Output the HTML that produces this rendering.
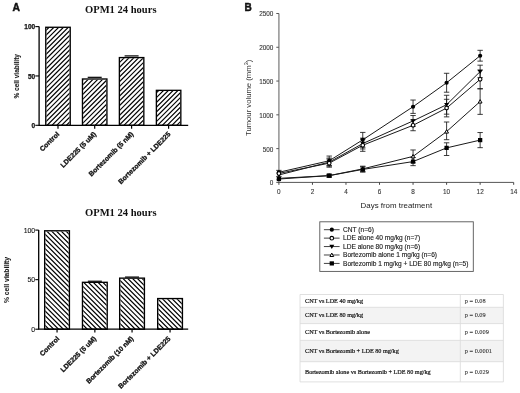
<!DOCTYPE html><html><head><meta charset="utf-8"><style>html,body{margin:0;padding:0;background:#fff;}svg{display:block;filter:grayscale(100%)}</style></head><body>
<svg width="520" height="393" viewBox="0 0 520 393">
<defs>
</defs>
<rect width="520" height="393" fill="#fff"/>
<text x="12.5" y="11.4" font-family='"Liberation Sans", sans-serif' font-weight="bold" font-size="10.3" fill="#111" stroke="#111" stroke-width="0.45">A</text>
<text x="244.6" y="10.9" font-family='"Liberation Sans", sans-serif' font-weight="bold" font-size="10.1" fill="#111" stroke="#111" stroke-width="0.4">B</text>
<text x="85" y="13.00" font-family='"Liberation Serif", serif' font-weight="bold" font-size="10.55" fill="#111">OPM1 24 hours</text>
<text transform="translate(18.60,76.30) rotate(-90)" text-anchor="middle" font-family='"Liberation Sans", sans-serif' font-weight="bold" font-size="6.5" fill="#1a1a1a" stroke="#1a1a1a" stroke-width="0.1">% cell viability</text>
<path d="M39.10,26.60 V125.30 H188.2" fill="none" stroke="#000" stroke-width="1.3"/>
<path d="M35.3,26.60 H39.10" stroke="#000" stroke-width="1.1"/>
<text x="35.2" y="29.30" text-anchor="end" font-family='"Liberation Sans", sans-serif' font-weight="bold" font-size="6.5" fill="#111" stroke="#111" stroke-width="0.25">100</text>
<path d="M35.3,75.95 H39.10" stroke="#000" stroke-width="1.1"/>
<text x="35.2" y="78.65" text-anchor="end" font-family='"Liberation Sans", sans-serif' font-weight="bold" font-size="6.5" fill="#111" stroke="#111" stroke-width="0.25">50</text>
<path d="M35.3,125.30 H39.10" stroke="#000" stroke-width="1.1"/>
<text x="35.2" y="128.00" text-anchor="end" font-family='"Liberation Sans", sans-serif' font-weight="bold" font-size="6.5" fill="#111" stroke="#111" stroke-width="0.25">0</text>
<clipPath id="ch10"><rect x="46.45" y="27.95" width="23.10" height="97.35"/></clipPath>
<g clip-path="url(#ch10)"><path d="M-59.50,126.30L39.85,26.95M-54.70,126.30L44.65,26.95M-49.90,126.30L49.45,26.95M-45.10,126.30L54.25,26.95M-40.30,126.30L59.05,26.95M-35.50,126.30L63.85,26.95M-30.70,126.30L68.65,26.95M-25.90,126.30L73.45,26.95M-21.10,126.30L78.25,26.95M-16.30,126.30L83.05,26.95M-11.50,126.30L87.85,26.95M-6.70,126.30L92.65,26.95M-1.90,126.30L97.45,26.95M2.90,126.30L102.25,26.95M7.70,126.30L107.05,26.95M12.50,126.30L111.85,26.95M17.30,126.30L116.65,26.95M22.10,126.30L121.45,26.95M26.90,126.30L126.25,26.95M31.70,126.30L131.05,26.95M36.50,126.30L135.85,26.95M41.30,126.30L140.65,26.95M46.10,126.30L145.45,26.95M50.90,126.30L150.25,26.95M55.70,126.30L155.05,26.95M60.50,126.30L159.85,26.95M65.30,126.30L164.65,26.95M70.10,126.30L169.45,26.95M74.90,126.30L174.25,26.95" stroke="#000" stroke-width="1.2" fill="none"/></g>
<rect x="45.77" y="27.28" width="24.45" height="98.02" fill="none" stroke="#000" stroke-width="1.35"/>
<path d="M58.00,125.30 V128.70" stroke="#000" stroke-width="1.2"/>
<clipPath id="ch11"><rect x="83.15" y="79.67" width="23.10" height="45.63"/></clipPath>
<g clip-path="url(#ch11)"><path d="M31.70,126.30L79.33,78.67M36.50,126.30L84.13,78.67M41.30,126.30L88.93,78.67M46.10,126.30L93.73,78.67M50.90,126.30L98.53,78.67M55.70,126.30L103.33,78.67M60.50,126.30L108.13,78.67M65.30,126.30L112.93,78.67M70.10,126.30L117.73,78.67M74.90,126.30L122.53,78.67M79.70,126.30L127.33,78.67M84.50,126.30L132.13,78.67M89.30,126.30L136.93,78.67M94.10,126.30L141.73,78.67M98.90,126.30L146.53,78.67M103.70,126.30L151.33,78.67M108.50,126.30L156.13,78.67M113.30,126.30L160.93,78.67" stroke="#000" stroke-width="1.2" fill="none"/></g>
<rect x="82.47" y="78.99" width="24.45" height="46.31" fill="none" stroke="#000" stroke-width="1.35"/>
<path d="M87.70,77.32 H101.70" stroke="#000" stroke-width="1.2"/>
<path d="M94.70,125.30 V128.70" stroke="#000" stroke-width="1.2"/>
<clipPath id="ch12"><rect x="120.05" y="58.25" width="23.10" height="67.05"/></clipPath>
<g clip-path="url(#ch12)"><path d="M46.10,126.30L115.15,57.25M50.90,126.30L119.95,57.25M55.70,126.30L124.75,57.25M60.50,126.30L129.55,57.25M65.30,126.30L134.35,57.25M70.10,126.30L139.15,57.25M74.90,126.30L143.95,57.25M79.70,126.30L148.75,57.25M84.50,126.30L153.55,57.25M89.30,126.30L158.35,57.25M94.10,126.30L163.15,57.25M98.90,126.30L167.95,57.25M103.70,126.30L172.75,57.25M108.50,126.30L177.55,57.25M113.30,126.30L182.35,57.25M118.10,126.30L187.15,57.25M122.90,126.30L191.95,57.25M127.70,126.30L196.75,57.25M132.50,126.30L201.55,57.25M137.30,126.30L206.35,57.25M142.10,126.30L211.15,57.25M146.90,126.30L215.95,57.25M151.70,126.30L220.75,57.25" stroke="#000" stroke-width="1.2" fill="none"/></g>
<rect x="119.38" y="57.58" width="24.45" height="67.72" fill="none" stroke="#000" stroke-width="1.35"/>
<path d="M124.60,55.90 H138.60" stroke="#000" stroke-width="1.2"/>
<path d="M131.60,125.30 V128.70" stroke="#000" stroke-width="1.2"/>
<clipPath id="ch13"><rect x="157.05" y="91.02" width="23.10" height="34.28"/></clipPath>
<g clip-path="url(#ch13)"><path d="M113.30,126.30L149.58,90.02M118.10,126.30L154.38,90.02M122.90,126.30L159.18,90.02M127.70,126.30L163.98,90.02M132.50,126.30L168.78,90.02M137.30,126.30L173.58,90.02M142.10,126.30L178.38,90.02M146.90,126.30L183.18,90.02M151.70,126.30L187.98,90.02M156.50,126.30L192.78,90.02M161.30,126.30L197.58,90.02M166.10,126.30L202.38,90.02M170.90,126.30L207.18,90.02M175.70,126.30L211.98,90.02M180.50,126.30L216.78,90.02M185.30,126.30L221.58,90.02" stroke="#000" stroke-width="1.2" fill="none"/></g>
<rect x="156.38" y="90.34" width="24.45" height="34.96" fill="none" stroke="#000" stroke-width="1.35"/>
<path d="M168.60,125.30 V128.70" stroke="#000" stroke-width="1.2"/>
<text transform="translate(59.80,134.60) rotate(-45)" text-anchor="end" font-family='"Liberation Sans", sans-serif' font-weight="bold" font-size="6.85" fill="#111" stroke="#111" stroke-width="0.3">Control</text>
<text transform="translate(96.60,134.60) rotate(-45)" text-anchor="end" font-family='"Liberation Sans", sans-serif' font-weight="bold" font-size="6.85" fill="#111" stroke="#111" stroke-width="0.3">LDE225 (5 uM)</text>
<text transform="translate(133.80,134.60) rotate(-45)" text-anchor="end" font-family='"Liberation Sans", sans-serif' font-weight="bold" font-size="6.85" fill="#111" stroke="#111" stroke-width="0.3">Bortezomib (5 nM)</text>
<text transform="translate(171.00,134.60) rotate(-45)" text-anchor="end" font-family='"Liberation Sans", sans-serif' font-weight="bold" font-size="6.85" fill="#111" stroke="#111" stroke-width="0.3">Bortezomib + LDE225</text>
<text x="85" y="216.10" font-family='"Liberation Serif", serif' font-weight="bold" font-size="10.55" fill="#111">OPM1 24 hours</text>
<text transform="translate(9.40,280.00) rotate(-90)" text-anchor="middle" font-family='"Liberation Sans", sans-serif' font-weight="bold" font-size="6.75" fill="#1a1a1a" stroke="#1a1a1a" stroke-width="0.1">% cell viability</text>
<path d="M38.70,230.10 V329.20 H188.2" fill="none" stroke="#000" stroke-width="1.3"/>
<path d="M35.3,230.10 H38.70" stroke="#000" stroke-width="1.1"/>
<text x="35.2" y="232.80" text-anchor="end" font-family='"Liberation Sans", sans-serif' font-weight="normal" font-size="6.9" fill="#111" stroke="#111" stroke-width="0.1">100</text>
<path d="M35.3,279.65 H38.70" stroke="#000" stroke-width="1.1"/>
<text x="35.2" y="282.35" text-anchor="end" font-family='"Liberation Sans", sans-serif' font-weight="normal" font-size="6.9" fill="#111" stroke="#111" stroke-width="0.1">50</text>
<path d="M35.3,329.20 H38.70" stroke="#000" stroke-width="1.1"/>
<text x="35.2" y="331.90" text-anchor="end" font-family='"Liberation Sans", sans-serif' font-weight="normal" font-size="6.9" fill="#111" stroke="#111" stroke-width="0.1">0</text>
<clipPath id="ch20"><rect x="45.35" y="231.45" width="23.40" height="97.75"/></clipPath>
<g clip-path="url(#ch20)"><path d="M-59.45,230.45L40.30,330.20M-54.65,230.45L45.10,330.20M-49.85,230.45L49.90,330.20M-45.05,230.45L54.70,330.20M-40.25,230.45L59.50,330.20M-35.45,230.45L64.30,330.20M-30.65,230.45L69.10,330.20M-25.85,230.45L73.90,330.20M-21.05,230.45L78.70,330.20M-16.25,230.45L83.50,330.20M-11.45,230.45L88.30,330.20M-6.65,230.45L93.10,330.20M-1.85,230.45L97.90,330.20M2.95,230.45L102.70,330.20M7.75,230.45L107.50,330.20M12.55,230.45L112.30,330.20M17.35,230.45L117.10,330.20M22.15,230.45L121.90,330.20M26.95,230.45L126.70,330.20M31.75,230.45L131.50,330.20M36.55,230.45L136.30,330.20M41.35,230.45L141.10,330.20M46.15,230.45L145.90,330.20M50.95,230.45L150.70,330.20M55.75,230.45L155.50,330.20M60.55,230.45L160.30,330.20M65.35,230.45L165.10,330.20M70.15,230.45L169.90,330.20M74.95,230.45L174.70,330.20" stroke="#000" stroke-width="1.2" fill="none"/></g>
<rect x="44.67" y="230.78" width="24.75" height="98.42" fill="none" stroke="#000" stroke-width="1.35"/>
<path d="M57.05,329.20 V332.60" stroke="#000" stroke-width="1.2"/>
<clipPath id="ch21"><rect x="83.15" y="282.98" width="23.40" height="46.22"/></clipPath>
<g clip-path="url(#ch21)"><path d="M30.48,281.98L78.70,330.20M35.28,281.98L83.50,330.20M40.08,281.98L88.30,330.20M44.88,281.98L93.10,330.20M49.68,281.98L97.90,330.20M54.48,281.98L102.70,330.20M59.28,281.98L107.50,330.20M64.08,281.98L112.30,330.20M68.88,281.98L117.10,330.20M73.68,281.98L121.90,330.20M78.48,281.98L126.70,330.20M83.28,281.98L131.50,330.20M88.08,281.98L136.30,330.20M92.88,281.98L141.10,330.20M97.68,281.98L145.90,330.20M102.48,281.98L150.70,330.20M107.28,281.98L155.50,330.20M112.08,281.98L160.30,330.20" stroke="#000" stroke-width="1.2" fill="none"/></g>
<rect x="82.47" y="282.31" width="24.75" height="46.89" fill="none" stroke="#000" stroke-width="1.35"/>
<path d="M87.85,281.23 H101.85" stroke="#000" stroke-width="1.2"/>
<path d="M94.85,329.20 V332.60" stroke="#000" stroke-width="1.2"/>
<clipPath id="ch22"><rect x="120.35" y="278.82" width="23.40" height="50.38"/></clipPath>
<g clip-path="url(#ch22)"><path d="M59.92,277.82L112.30,330.20M64.72,277.82L117.10,330.20M69.52,277.82L121.90,330.20M74.32,277.82L126.70,330.20M79.12,277.82L131.50,330.20M83.92,277.82L136.30,330.20M88.72,277.82L141.10,330.20M93.52,277.82L145.90,330.20M98.32,277.82L150.70,330.20M103.12,277.82L155.50,330.20M107.92,277.82L160.30,330.20M112.72,277.82L165.10,330.20M117.52,277.82L169.90,330.20M122.32,277.82L174.70,330.20M127.12,277.82L179.50,330.20M131.92,277.82L184.30,330.20M136.72,277.82L189.10,330.20M141.52,277.82L193.90,330.20M146.32,277.82L198.70,330.20M151.12,277.82L203.50,330.20" stroke="#000" stroke-width="1.2" fill="none"/></g>
<rect x="119.67" y="278.14" width="24.75" height="51.06" fill="none" stroke="#000" stroke-width="1.35"/>
<path d="M125.05,277.07 H139.05" stroke="#000" stroke-width="1.2"/>
<path d="M132.05,329.20 V332.60" stroke="#000" stroke-width="1.2"/>
<clipPath id="ch23"><rect x="158.35" y="299.23" width="23.40" height="29.97"/></clipPath>
<g clip-path="url(#ch23)"><path d="M118.73,298.23L150.70,330.20M123.53,298.23L155.50,330.20M128.33,298.23L160.30,330.20M133.13,298.23L165.10,330.20M137.93,298.23L169.90,330.20M142.73,298.23L174.70,330.20M147.53,298.23L179.50,330.20M152.33,298.23L184.30,330.20M157.13,298.23L189.10,330.20M161.93,298.23L193.90,330.20M166.73,298.23L198.70,330.20M171.53,298.23L203.50,330.20M176.33,298.23L208.30,330.20M181.13,298.23L213.10,330.20M185.93,298.23L217.90,330.20" stroke="#000" stroke-width="1.2" fill="none"/></g>
<rect x="157.68" y="298.56" width="24.75" height="30.64" fill="none" stroke="#000" stroke-width="1.35"/>
<path d="M170.05,329.20 V332.60" stroke="#000" stroke-width="1.2"/>
<text transform="translate(59.80,339.20) rotate(-45)" text-anchor="end" font-family='"Liberation Sans", sans-serif' font-weight="bold" font-size="6.85" fill="#111" stroke="#111" stroke-width="0.3">Control</text>
<text transform="translate(96.60,339.20) rotate(-45)" text-anchor="end" font-family='"Liberation Sans", sans-serif' font-weight="bold" font-size="6.85" fill="#111" stroke="#111" stroke-width="0.3">LDE225 (5 uM)</text>
<text transform="translate(133.80,339.20) rotate(-45)" text-anchor="end" font-family='"Liberation Sans", sans-serif' font-weight="bold" font-size="6.85" fill="#111" stroke="#111" stroke-width="0.3">Bortezomib (10 nM)</text>
<text transform="translate(171.00,339.20) rotate(-45)" text-anchor="end" font-family='"Liberation Sans", sans-serif' font-weight="bold" font-size="6.85" fill="#111" stroke="#111" stroke-width="0.3">Bortezomib + LDE225</text>
<path d="M278.90,13.50 V182.40" fill="none" stroke="#8a8a8a" stroke-width="1.4"/>
<path d="M278.20,182.40 H513.68" fill="none" stroke="#555" stroke-width="1.0"/>
<path d="M276.3,182.40 H278.90" stroke="#555" stroke-width="1"/>
<text x="273.4" y="185.30" text-anchor="end" font-family='"Liberation Sans", sans-serif' font-size="6.4" fill="#333" stroke="#333" stroke-width="0.1">0</text>
<path d="M276.3,148.62 H278.90" stroke="#555" stroke-width="1"/>
<text x="273.4" y="151.52" text-anchor="end" font-family='"Liberation Sans", sans-serif' font-size="6.4" fill="#333" stroke="#333" stroke-width="0.1">500</text>
<path d="M276.3,114.84 H278.90" stroke="#555" stroke-width="1"/>
<text x="273.4" y="117.74" text-anchor="end" font-family='"Liberation Sans", sans-serif' font-size="6.4" fill="#333" stroke="#333" stroke-width="0.1">1000</text>
<path d="M276.3,81.06 H278.90" stroke="#555" stroke-width="1"/>
<text x="273.4" y="83.96" text-anchor="end" font-family='"Liberation Sans", sans-serif' font-size="6.4" fill="#333" stroke="#333" stroke-width="0.1">1500</text>
<path d="M276.3,47.28 H278.90" stroke="#555" stroke-width="1"/>
<text x="273.4" y="50.18" text-anchor="end" font-family='"Liberation Sans", sans-serif' font-size="6.4" fill="#333" stroke="#333" stroke-width="0.1">2000</text>
<path d="M276.3,13.50 H278.90" stroke="#555" stroke-width="1"/>
<text x="273.4" y="16.40" text-anchor="end" font-family='"Liberation Sans", sans-serif' font-size="6.4" fill="#333" stroke="#333" stroke-width="0.1">2500</text>
<path d="M278.90,182.40 V184.80" stroke="#444" stroke-width="1"/>
<text x="278.90" y="194.2" text-anchor="middle" font-family='"Liberation Sans", sans-serif' font-size="6.4" fill="#333" stroke="#333" stroke-width="0.1">0</text>
<path d="M312.44,182.40 V184.80" stroke="#444" stroke-width="1"/>
<text x="312.44" y="194.2" text-anchor="middle" font-family='"Liberation Sans", sans-serif' font-size="6.4" fill="#333" stroke="#333" stroke-width="0.1">2</text>
<path d="M345.98,182.40 V184.80" stroke="#444" stroke-width="1"/>
<text x="345.98" y="194.2" text-anchor="middle" font-family='"Liberation Sans", sans-serif' font-size="6.4" fill="#333" stroke="#333" stroke-width="0.1">4</text>
<path d="M379.52,182.40 V184.80" stroke="#444" stroke-width="1"/>
<text x="379.52" y="194.2" text-anchor="middle" font-family='"Liberation Sans", sans-serif' font-size="6.4" fill="#333" stroke="#333" stroke-width="0.1">6</text>
<path d="M413.06,182.40 V184.80" stroke="#444" stroke-width="1"/>
<text x="413.06" y="194.2" text-anchor="middle" font-family='"Liberation Sans", sans-serif' font-size="6.4" fill="#333" stroke="#333" stroke-width="0.1">8</text>
<path d="M446.60,182.40 V184.80" stroke="#444" stroke-width="1"/>
<text x="446.60" y="194.2" text-anchor="middle" font-family='"Liberation Sans", sans-serif' font-size="6.4" fill="#333" stroke="#333" stroke-width="0.1">10</text>
<path d="M480.14,182.40 V184.80" stroke="#444" stroke-width="1"/>
<text x="480.14" y="194.2" text-anchor="middle" font-family='"Liberation Sans", sans-serif' font-size="6.4" fill="#333" stroke="#333" stroke-width="0.1">12</text>
<path d="M513.68,182.40 V184.80" stroke="#444" stroke-width="1"/>
<text x="513.68" y="194.2" text-anchor="middle" font-family='"Liberation Sans", sans-serif' font-size="6.4" fill="#333" stroke="#333" stroke-width="0.1">14</text>
<text x="360.6" y="208.4" font-family='"Liberation Sans", sans-serif' font-size="7.9" fill="#222">Days from treatment</text>
<text transform="translate(251.2,97.9) rotate(-90)" text-anchor="middle" font-family='"Liberation Sans", sans-serif' font-size="7.7" fill="#333">Tumour volume (mm<tspan dy="-3.3" font-size="5.4">3</tspan><tspan dy="3.3">)</tspan></text>
<path d="M329.21,156.05 V165.51 M326.51,156.05 H331.91 M326.51,165.51 H331.91" stroke="#1a1a1a" stroke-width="0.85" fill="none"/>
<path d="M362.75,132.41 V147.27 M360.05,132.41 H365.45 M360.05,147.27 H365.45" stroke="#1a1a1a" stroke-width="0.85" fill="none"/>
<path d="M413.06,100.04 V113.42 M410.36,100.04 H415.76 M410.36,113.42 H415.76" stroke="#1a1a1a" stroke-width="0.85" fill="none"/>
<path d="M446.60,73.29 V92.21 M443.90,73.29 H449.30 M443.90,92.21 H449.30" stroke="#1a1a1a" stroke-width="0.85" fill="none"/>
<path d="M480.14,50.32 V61.13 M477.44,50.32 H482.84 M477.44,61.13 H482.84" stroke="#1a1a1a" stroke-width="0.85" fill="none"/>
<path d="M278.90,170.37 V176.45 M276.20,170.37 H281.60 M276.20,176.45 H281.60" stroke="#1a1a1a" stroke-width="0.85" fill="none"/>
<path d="M329.21,159.09 V167.20 M326.51,159.09 H331.91 M326.51,167.20 H331.91" stroke="#1a1a1a" stroke-width="0.85" fill="none"/>
<path d="M362.75,139.16 V151.32 M360.05,139.16 H365.45 M360.05,151.32 H365.45" stroke="#1a1a1a" stroke-width="0.85" fill="none"/>
<path d="M413.06,119.91 V130.72 M410.36,119.91 H415.76 M410.36,130.72 H415.76" stroke="#1a1a1a" stroke-width="0.85" fill="none"/>
<path d="M446.60,99.30 V116.87 M443.90,99.30 H449.30 M443.90,116.87 H449.30" stroke="#1a1a1a" stroke-width="0.85" fill="none"/>
<path d="M480.14,69.91 V88.83 M477.44,69.91 H482.84 M477.44,88.83 H482.84" stroke="#1a1a1a" stroke-width="0.85" fill="none"/>
<path d="M329.21,158.08 V166.19 M326.51,158.08 H331.91 M326.51,166.19 H331.91" stroke="#1a1a1a" stroke-width="0.85" fill="none"/>
<path d="M362.75,138.15 V148.96 M360.05,138.15 H365.45 M360.05,148.96 H365.45" stroke="#1a1a1a" stroke-width="0.85" fill="none"/>
<path d="M413.06,115.52 V126.33 M410.36,115.52 H415.76 M410.36,126.33 H415.76" stroke="#1a1a1a" stroke-width="0.85" fill="none"/>
<path d="M446.60,95.25 V114.16 M443.90,95.25 H449.30 M443.90,114.16 H449.30" stroke="#1a1a1a" stroke-width="0.85" fill="none"/>
<path d="M480.14,65.18 V77.68 M477.44,65.18 H482.84 M477.44,77.68 H482.84" stroke="#1a1a1a" stroke-width="0.85" fill="none"/>
<path d="M329.21,174.29 V177.00 M326.51,174.29 H331.91 M326.51,177.00 H331.91" stroke="#1a1a1a" stroke-width="0.85" fill="none"/>
<path d="M362.75,166.19 V171.59 M360.05,166.19 H365.45 M360.05,171.59 H365.45" stroke="#1a1a1a" stroke-width="0.85" fill="none"/>
<path d="M413.06,149.97 V162.81 M410.36,149.97 H415.76 M410.36,162.81 H415.76" stroke="#1a1a1a" stroke-width="0.85" fill="none"/>
<path d="M446.60,122.00 V139.70 M443.90,122.00 H449.30 M443.90,139.70 H449.30" stroke="#1a1a1a" stroke-width="0.85" fill="none"/>
<path d="M480.14,88.69 V114.37 M477.44,88.69 H482.84 M477.44,114.37 H482.84" stroke="#1a1a1a" stroke-width="0.85" fill="none"/>
<path d="M329.21,174.29 V177.00 M326.51,174.29 H331.91 M326.51,177.00 H331.91" stroke="#1a1a1a" stroke-width="0.85" fill="none"/>
<path d="M362.75,166.73 V172.13 M360.05,166.73 H365.45 M360.05,172.13 H365.45" stroke="#1a1a1a" stroke-width="0.85" fill="none"/>
<path d="M413.06,157.54 V165.65 M410.36,157.54 H415.76 M410.36,165.65 H415.76" stroke="#1a1a1a" stroke-width="0.85" fill="none"/>
<path d="M446.60,142.81 V155.51 M443.90,142.81 H449.30 M443.90,155.51 H449.30" stroke="#1a1a1a" stroke-width="0.85" fill="none"/>
<path d="M480.14,132.54 V147.67 M477.44,132.54 H482.84 M477.44,147.67 H482.84" stroke="#1a1a1a" stroke-width="0.85" fill="none"/>
<polyline points="278.90,172.27 329.21,160.78 362.75,139.84 413.06,106.73 446.60,82.75 480.14,55.73" fill="none" stroke="#1a1a1a" stroke-width="1.0"/>
<polyline points="278.90,173.41 329.21,163.15 362.75,145.24 413.06,125.31 446.60,108.08 480.14,79.37" fill="none" stroke="#1a1a1a" stroke-width="1.0"/>
<polyline points="278.90,174.97 329.21,162.13 362.75,143.55 413.06,120.92 446.60,104.71 480.14,71.60" fill="none" stroke="#1a1a1a" stroke-width="1.0"/>
<polyline points="278.90,178.35 329.21,175.64 362.75,168.89 413.06,156.39 446.60,131.59 480.14,101.53" fill="none" stroke="#1a1a1a" stroke-width="1.0"/>
<polyline points="278.90,179.02 329.21,175.64 362.75,169.43 413.06,161.59 446.60,147.88 480.14,140.11" fill="none" stroke="#1a1a1a" stroke-width="1.0"/>
<circle cx="278.90" cy="172.27" r="2.10" fill="#000"/>
<circle cx="329.21" cy="160.78" r="2.10" fill="#000"/>
<circle cx="362.75" cy="139.84" r="2.10" fill="#000"/>
<circle cx="413.06" cy="106.73" r="2.10" fill="#000"/>
<circle cx="446.60" cy="82.75" r="2.10" fill="#000"/>
<circle cx="480.14" cy="55.73" r="2.10" fill="#000"/>
<path d="M276.40,173.27 L281.40,173.27 L278.90,177.37 Z" fill="#000"/>
<path d="M326.71,160.43 L331.71,160.43 L329.21,164.53 Z" fill="#000"/>
<path d="M360.25,141.85 L365.25,141.85 L362.75,145.95 Z" fill="#000"/>
<path d="M410.56,119.22 L415.56,119.22 L413.06,123.32 Z" fill="#000"/>
<path d="M444.10,103.01 L449.10,103.01 L446.60,107.11 Z" fill="#000"/>
<path d="M477.64,69.90 L482.64,69.90 L480.14,74.00 Z" fill="#000"/>
<path d="M277.00,179.85 L280.80,179.85 L278.90,176.45 Z" fill="#fff" stroke="#000" stroke-width="1.00" stroke-linejoin="miter"/>
<path d="M327.31,177.14 L331.11,177.14 L329.21,173.74 Z" fill="#fff" stroke="#000" stroke-width="1.00" stroke-linejoin="miter"/>
<path d="M360.85,170.39 L364.65,170.39 L362.75,166.99 Z" fill="#fff" stroke="#000" stroke-width="1.00" stroke-linejoin="miter"/>
<path d="M411.16,157.89 L414.96,157.89 L413.06,154.49 Z" fill="#fff" stroke="#000" stroke-width="1.00" stroke-linejoin="miter"/>
<path d="M444.70,133.09 L448.50,133.09 L446.60,129.69 Z" fill="#fff" stroke="#000" stroke-width="1.00" stroke-linejoin="miter"/>
<path d="M478.24,103.03 L482.04,103.03 L480.14,99.63 Z" fill="#fff" stroke="#000" stroke-width="1.00" stroke-linejoin="miter"/>
<rect x="276.75" y="176.92" width="4.30" height="4.20" fill="#000"/>
<rect x="327.06" y="173.54" width="4.30" height="4.20" fill="#000"/>
<rect x="360.60" y="167.33" width="4.30" height="4.20" fill="#000"/>
<rect x="410.91" y="159.49" width="4.30" height="4.20" fill="#000"/>
<rect x="444.45" y="145.78" width="4.30" height="4.20" fill="#000"/>
<rect x="477.99" y="138.01" width="4.30" height="4.20" fill="#000"/>
<circle cx="278.90" cy="173.41" r="1.80" fill="#fff" stroke="#000" stroke-width="1.10"/>
<circle cx="329.21" cy="163.15" r="1.80" fill="#fff" stroke="#000" stroke-width="1.10"/>
<circle cx="362.75" cy="145.24" r="1.80" fill="#fff" stroke="#000" stroke-width="1.10"/>
<circle cx="413.06" cy="125.31" r="1.80" fill="#fff" stroke="#000" stroke-width="1.10"/>
<circle cx="446.60" cy="108.08" r="1.80" fill="#fff" stroke="#000" stroke-width="1.10"/>
<circle cx="480.14" cy="79.37" r="1.80" fill="#fff" stroke="#000" stroke-width="1.10"/>
<rect x="319.8" y="221.8" width="153.5" height="49.6" fill="#fff" stroke="#555" stroke-width="0.9"/>
<path d="M323.9,229.70 H339.6" stroke="#444" stroke-width="1.0"/>
<circle cx="331.80" cy="229.70" r="2.10" fill="#000"/>
<text x="343" y="232.00" font-family='"Liberation Sans", sans-serif' font-size="6.6" fill="#222" stroke="#222" stroke-width="0.14">CNT (n=6)</text>
<path d="M323.9,238.13 H339.6" stroke="#444" stroke-width="1.0"/>
<circle cx="331.80" cy="238.13" r="1.80" fill="#fff" stroke="#000" stroke-width="1.10"/>
<text x="343" y="240.43" font-family='"Liberation Sans", sans-serif' font-size="6.6" fill="#222" stroke="#222" stroke-width="0.14">LDE alone 40 mg/kg (n=7)</text>
<path d="M323.9,246.56 H339.6" stroke="#444" stroke-width="1.0"/>
<path d="M329.30,244.86 L334.30,244.86 L331.80,248.96 Z" fill="#000"/>
<text x="343" y="248.86" font-family='"Liberation Sans", sans-serif' font-size="6.6" fill="#222" stroke="#222" stroke-width="0.14">LDE alone 80 mg/kg (n=6)</text>
<path d="M323.9,254.99 H339.6" stroke="#444" stroke-width="1.0"/>
<path d="M329.90,256.49 L333.70,256.49 L331.80,253.09 Z" fill="#fff" stroke="#000" stroke-width="1.00" stroke-linejoin="miter"/>
<text x="343" y="257.29" font-family='"Liberation Sans", sans-serif' font-size="6.6" fill="#222" stroke="#222" stroke-width="0.14">Bortezomib alone 1 mg/kg (n=6)</text>
<path d="M323.9,263.42 H339.6" stroke="#444" stroke-width="1.0"/>
<rect x="329.65" y="261.32" width="4.30" height="4.20" fill="#000"/>
<text x="343" y="265.72" font-family='"Liberation Sans", sans-serif' font-size="6.6" fill="#222" stroke="#222" stroke-width="0.14">Bortezomib 1 mg/kg + LDE 80 mg/kg (n=5)</text>
<rect x="300.0" y="307.3" width="203.39999999999998" height="16.30000000000001" fill="#f3f3f3"/>
<rect x="300.0" y="340.4" width="203.39999999999998" height="21.30000000000001" fill="#f3f3f3"/>
<path d="M300.0,294.5 H503.4" stroke="#dcdcdc" stroke-width="0.9"/>
<path d="M300.0,307.3 H503.4" stroke="#dcdcdc" stroke-width="0.9"/>
<path d="M300.0,323.6 H503.4" stroke="#dcdcdc" stroke-width="0.9"/>
<path d="M300.0,340.4 H503.4" stroke="#dcdcdc" stroke-width="0.9"/>
<path d="M300.0,361.7 H503.4" stroke="#dcdcdc" stroke-width="0.9"/>
<path d="M300.0,381.9 H503.4" stroke="#dcdcdc" stroke-width="0.9"/>
<path d="M300.0,294.5 V381.9 M503.4,294.5 V381.9 M460.3,294.5 V381.9" stroke="#dcdcdc" stroke-width="0.9"/>
<text x="305.0" y="302.70" font-family='"Liberation Serif", serif' font-size="6.2" fill="#1a1a1a" stroke="#1a1a1a" stroke-width="0.22">CNT vs LDE 40 mg/kg</text>
<text x="464.8" y="302.70" font-family='"Liberation Serif", serif' font-size="6.3" fill="#333" stroke="#333" stroke-width="0.1">p = 0.08</text>
<text x="305.0" y="317.25" font-family='"Liberation Serif", serif' font-size="6.2" fill="#1a1a1a" stroke="#1a1a1a" stroke-width="0.22">CNT vs LDE 80 mg/kg</text>
<text x="464.8" y="317.25" font-family='"Liberation Serif", serif' font-size="6.3" fill="#333" stroke="#333" stroke-width="0.1">p = 0.09</text>
<text x="305.0" y="333.80" font-family='"Liberation Serif", serif' font-size="6.2" fill="#1a1a1a" stroke="#1a1a1a" stroke-width="0.22">CNT vs Bortezomib alone</text>
<text x="464.8" y="333.80" font-family='"Liberation Serif", serif' font-size="6.3" fill="#333" stroke="#333" stroke-width="0.1">p = 0.009</text>
<text x="305.0" y="352.85" font-family='"Liberation Serif", serif' font-size="6.2" fill="#1a1a1a" stroke="#1a1a1a" stroke-width="0.22">CNT vs Bortezomib + LDE 80 mg/kg</text>
<text x="464.8" y="352.85" font-family='"Liberation Serif", serif' font-size="6.3" fill="#333" stroke="#333" stroke-width="0.1">p = 0.0001</text>
<text x="305.0" y="373.60" font-family='"Liberation Serif", serif' font-size="6.2" fill="#1a1a1a" stroke="#1a1a1a" stroke-width="0.22">Bortezomib alone vs Bortezomib + LDE 80 mg/kg</text>
<text x="464.8" y="373.60" font-family='"Liberation Serif", serif' font-size="6.3" fill="#333" stroke="#333" stroke-width="0.1">p = 0.029</text>
</svg></body></html>
